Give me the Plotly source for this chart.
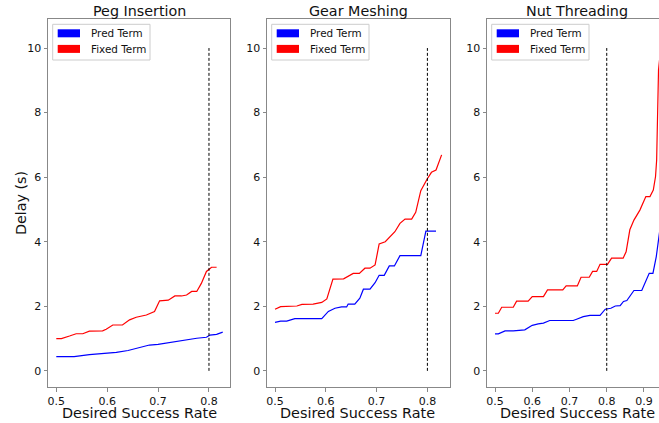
import plotly.graph_objects as go

# ---------------- data ----------------
panel_titles = ["Peg Insertion", "Gear Meshing", "Nut Threading"]
series_names = ["Pred Term", "Fixed Term"]
series_colors = ["#0000ff", "#ff0000"]
x_label = "Desired Success Rate"
y_label = "Delay (s)"

peg_pred_x = [0.50, 0.535, 0.565, 0.618, 0.641, 0.664, 0.683, 0.70, 0.729, 0.756, 0.776, 0.795, 0.802, 0.815, 0.827]
peg_pred_y = [0.44, 0.44, 0.50, 0.57, 0.63, 0.73, 0.80, 0.82, 0.90, 0.96, 1.01, 1.04, 1.11, 1.13, 1.20]
peg_fixed_x = [0.50, 0.51, 0.526, 0.539, 0.552, 0.565, 0.591, 0.598, 0.611, 0.630, 0.644, 0.657, 0.677,
               0.693, 0.703, 0.720, 0.733, 0.746, 0.756, 0.766, 0.776, 0.785, 0.795, 0.805, 0.815]
peg_fixed_y = [1.00, 1.00, 1.08, 1.15, 1.15, 1.23, 1.24, 1.29, 1.42, 1.42, 1.58, 1.66, 1.73,
               1.84, 2.17, 2.19, 2.32, 2.32, 2.35, 2.46, 2.46, 2.71, 3.08, 3.21, 3.21]

gear_pred_x = [0.50, 0.511, 0.523, 0.539, 0.592, 0.605, 0.618, 0.631, 0.641, 0.644, 0.657, 0.667, 0.674,
               0.687, 0.697, 0.705, 0.715, 0.725, 0.735, 0.746, 0.787, 0.797, 0.817]
gear_pred_y = [1.50, 1.54, 1.54, 1.62, 1.62, 1.84, 1.94, 1.98, 1.98, 2.07, 2.07, 2.25, 2.53,
               2.53, 2.73, 2.96, 2.96, 3.25, 3.25, 3.57, 3.57, 4.33, 4.33]
gear_fixed_x = [0.50, 0.511, 0.543, 0.553, 0.575, 0.592, 0.602, 0.614, 0.635, 0.654, 0.666, 0.677, 0.687,
                0.697, 0.705, 0.717, 0.736, 0.746, 0.756, 0.769, 0.777, 0.787, 0.799, 0.808, 0.817, 0.828]
gear_fixed_y = [1.91, 1.99, 2.01, 2.06, 2.07, 2.12, 2.23, 2.84, 2.85, 3.02, 3.02, 3.18, 3.18,
                3.28, 3.93, 4.00, 4.31, 4.57, 4.70, 4.70, 4.91, 5.58, 5.93, 6.15, 6.22, 6.69]

nut_pred_x = [0.50, 0.509, 0.527, 0.549, 0.58, 0.600, 0.616, 0.630, 0.647, 0.710, 0.719, 0.737, 0.755, 0.782,
              0.796, 0.811, 0.823, 0.836, 0.845, 0.854, 0.873, 0.894, 0.914, 0.924, 0.933, 0.940, 0.95]
nut_pred_y = [1.146, 1.146, 1.24, 1.24, 1.27, 1.41, 1.455, 1.48, 1.56, 1.56, 1.60, 1.68, 1.72, 1.72,
              1.91, 1.94, 2.01, 2.02, 2.15, 2.18, 2.49, 2.49, 3.02, 3.02, 3.54, 4.22, 5.0]
nut_fixed_x = [0.50, 0.509, 0.518, 0.549, 0.558, 0.589, 0.600, 0.630, 0.641, 0.682, 0.691, 0.721, 0.731,
               0.753, 0.762, 0.773, 0.782, 0.802, 0.813, 0.844, 0.852, 0.862, 0.873, 0.889, 0.905, 0.916,
               0.925, 0.931, 0.934, 0.936, 0.939, 0.945, 0.95]
nut_fixed_y = [1.785, 1.785, 1.97, 1.97, 2.16, 2.16, 2.30, 2.30, 2.51, 2.51, 2.63, 2.63, 2.90,
               2.90, 3.08, 3.08, 3.30, 3.30, 3.49, 3.49, 3.69, 4.37, 4.67, 4.98, 5.40, 5.40,
               5.60, 6.02, 6.53, 7.87, 9.32, 10.0, 10.36]

threshold_x = [0.8, 0.8]
threshold_y = [0, 10]

x_ticks_12 = [0.5, 0.6, 0.7, 0.8]
x_ticks_3 = [0.5, 0.6, 0.7, 0.8, 0.9]
y_ticks = [0, 2, 4, 6, 8, 10]

panels = [
    (peg_pred_x, peg_pred_y, peg_fixed_x, peg_fixed_y),
    (gear_pred_x, gear_pred_y, gear_fixed_x, gear_fixed_y),
    (nut_pred_x, nut_pred_y, nut_fixed_x, nut_fixed_y),
]

# ---------------- layout helpers ----------------
W, H = 659, 423
FONT = "DejaVu Sans"
TXT = "#111111"
px_x = lambda p: p / W
px_y = lambda p: 1 - p / H

x_domains = [(48, 230), (267, 450), (487, 659)]
x_ranges = [(0.4837, 0.8413), (0.4842, 0.8445), (0.4785, 0.9403)]
y_dom = [px_y(387), px_y(19)]
y_range = [-0.5, 10.9]
title_cx = [139, 358.5, 577]
xlabel_cx = [139.5, 357.5, 577]

fig = go.Figure()

for i, (px_, py_, fx_, fy_) in enumerate(panels):
    xa = "x" if i == 0 else f"x{i+1}"
    ya = "y" if i == 0 else f"y{i+1}"
    fig.add_trace(go.Scatter(x=px_, y=py_, mode="lines", line=dict(color=series_colors[0], width=1.2),
                             xaxis=xa, yaxis=ya, showlegend=False, name=series_names[0]))
    fig.add_trace(go.Scatter(x=fx_, y=fy_, mode="lines", line=dict(color=series_colors[1], width=1.2),
                             xaxis=xa, yaxis=ya, showlegend=False, name=series_names[1]))
    fig.add_trace(go.Scatter(x=threshold_x, y=threshold_y, mode="lines",
                             line=dict(color="black", width=1, dash="3px,2px"),
                             xaxis=xa, yaxis=ya, showlegend=False))

axis_common = dict(showline=True, linecolor="#888888", linewidth=1, ticks="outside",
                   ticklen=3.5, tickwidth=1, tickcolor="#888888", showgrid=False, zeroline=False,
                   automargin=False, tickfont=dict(family=FONT, size=11, color=TXT))

layout = dict(width=W, height=H, autosize=False, margin=dict(l=0, r=0, t=0, b=0, autoexpand=False),
              paper_bgcolor="white", plot_bgcolor="white", font=dict(family=FONT),
              showlegend=False)

shapes = []
annotations = []

for i in range(3):
    xk = "xaxis" if i == 0 else f"xaxis{i+1}"
    yk = "yaxis" if i == 0 else f"yaxis{i+1}"
    ya = "y" if i == 0 else f"y{i+1}"
    xa = "x" if i == 0 else f"x{i+1}"
    ticks = x_ticks_3 if i == 2 else x_ticks_12
    layout[xk] = dict(axis_common, domain=[px_x(x_domains[i][0]), px_x(x_domains[i][1])],
                      range=list(x_ranges[i]), anchor=ya, mirror=True,
                      tickvals=ticks, ticktext=[f"{t:.1f}" for t in ticks])
    layout[yk] = dict(axis_common, domain=y_dom, range=y_range, anchor=xa,
                      mirror=(i != 2), tickvals=y_ticks, ticktext=[str(t) for t in y_ticks])

    # legend box (drawn like matplotlib's patch legend)
    L = x_domains[i][0]
    shapes.append(dict(type="rect", xref="paper", yref="paper",
                       x0=px_x(L + 4.7), x1=px_x(L + 102), y0=px_y(60), y1=px_y(24.3),
                       line=dict(color="#cccccc", width=1), fillcolor="rgba(255,255,255,0.8)"))
    for k, (nm, col) in enumerate(zip(series_names, series_colors)):
        cy = 33.3 + k * 15.6
        shapes.append(dict(type="rect", xref="paper", yref="paper",
                           x0=px_x(L + 9.7), x1=px_x(L + 32), y0=px_y(cy + 4), y1=px_y(cy - 4),
                           line=dict(width=0), fillcolor=col))
        annotations.append(dict(text=nm, x=px_x(L + 40.5), y=px_y(cy), xref="paper", yref="paper",
                                showarrow=False, xanchor="left", yanchor="middle",
                                font=dict(family=FONT, size=10.4, color=TXT)))

    annotations.append(dict(text=x_label, x=px_x(xlabel_cx[i]), y=px_y(413), xref="paper", yref="paper",
                            showarrow=False, xanchor="center", yanchor="middle",
                            font=dict(family=FONT, size=14.4, color=TXT)))

for t, cx in zip(panel_titles, title_cx):
    annotations.append(dict(text=t, x=px_x(cx), y=px_y(11), xref="paper", yref="paper",
                            showarrow=False, xanchor="center", yanchor="middle",
                            font=dict(family=FONT, size=14.3, color=TXT)))

annotations.append(dict(text=y_label, x=px_x(21), y=px_y(203), xref="paper", yref="paper",
                        showarrow=False, xanchor="center", yanchor="middle", textangle=-90,
                        font=dict(family=FONT, size=14.3, color=TXT)))

layout["shapes"] = shapes
layout["annotations"] = annotations
fig.update_layout(**layout)
fig.write_html("out.html", config={"displayModeBar": False},
               post_script="document.body.style.margin='0';")
